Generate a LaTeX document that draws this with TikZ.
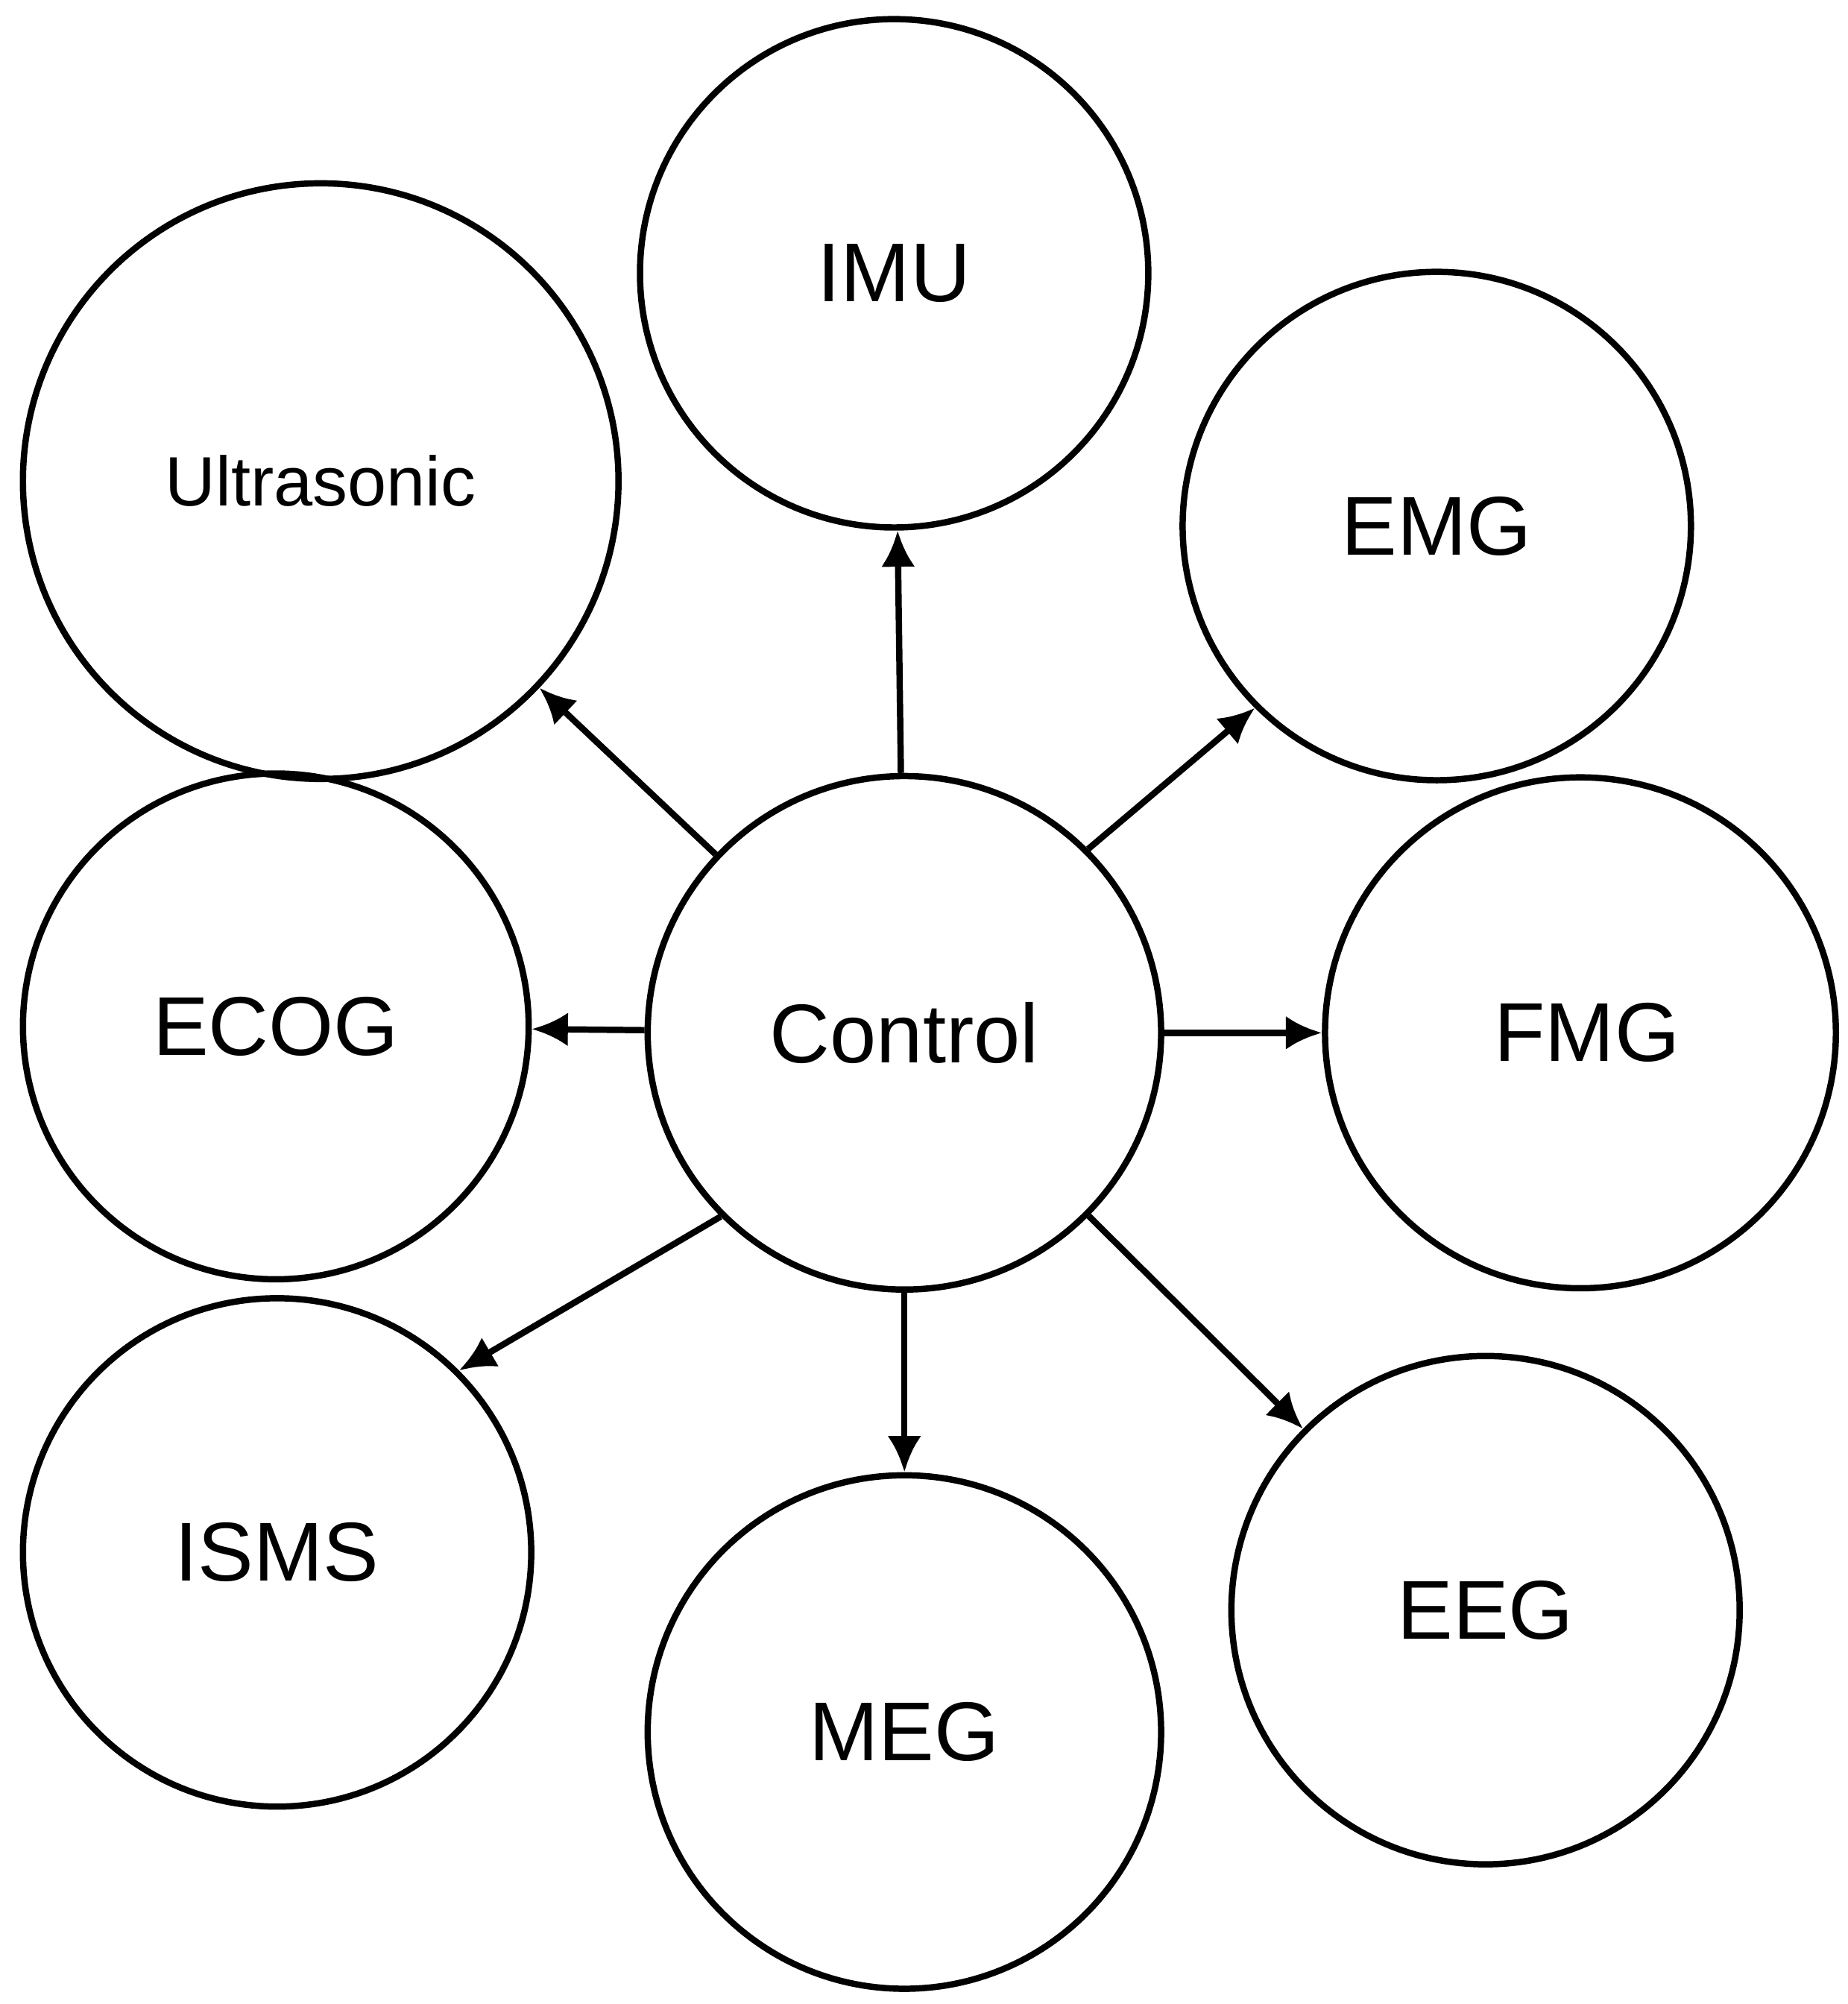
\documentclass[tikz,border=0pt]{standalone}
\usepackage{fontspec}
\setmainfont{Liberation Sans}
\usetikzlibrary{arrows.meta}
\begin{document}
\begin{tikzpicture}[x=0.01cm,y=-0.01cm,
  c/.style={circle,draw,line width=1.4pt,inner sep=0pt,font=\fontsize{18.5}{22}\selectfont},
  a/.style={-{Latex[length=8pt,width=7.5pt]},line width=1.4pt}]
\useasboundingbox (0,0) rectangle (1440,1562);
\node[c,minimum size=3.96cm] (imu) at (697,213) {IMU};
\node[c,minimum size=4.64cm,font=\fontsize{15.5}{18}\selectfont] (ult) at (250,375) {Ultrasonic};
\node[c,minimum size=3.96cm] (emg) at (1120,410) {EMG};
\node[c,minimum size=3.94cm] (ecog) at (215,800) {ECOG};
\node[c,minimum size=4.0cm] (ctl) at (705,805) {Control};
\node[c,minimum size=3.98cm] (fmg) at (1232,805) {\hspace{0.1cm}FMG};
\node[c,minimum size=3.96cm] (isms) at (216,1210) {ISMS};
\node[c,minimum size=4.0cm] (meg) at (705,1350) {MEG};
\node[c,minimum size=3.96cm] (eeg) at (1158,1255) {EEG};
\draw[a] (ctl) -- (imu);
\draw[a] (ctl) -- (ult);
\draw[a] (ctl.45) -- (emg.225);
\draw[a] (ctl) -- (ecog);
\draw[a] (ctl) -- (fmg);
\draw[a] (ctl.225) -- (isms.45);
\draw[a] (ctl) -- (meg);
\draw[a] (ctl) -- (eeg);
\end{tikzpicture}
\end{document}
